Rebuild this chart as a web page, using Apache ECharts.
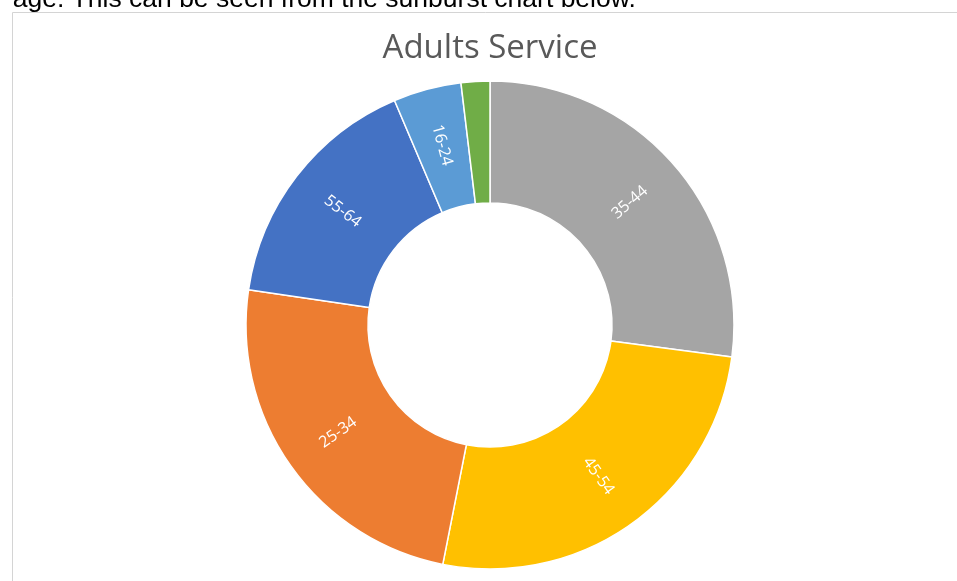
<!DOCTYPE html>
<html>
<head>
<meta charset="utf-8">
<script src="https://cdn.jsdelivr.net/npm/echarts@6/dist/echarts.min.js"></script>
<style>
html, body { margin: 0; padding: 0; background: #fff; }
#main { width: 957px; height: 581px; }
</style>
</head>
<body>
<div id="main"></div>
<script>
// age bands, clockwise from 12 o'clock
var ageBands = ['35-44', '45-54', '25-34', '55-64', '16-24', '65+'];
var shares = [27.1, 26.0, 24.2, 16.3, 4.5, 1.9];
var sliceColors = ['#A5A5A5', '#FFC000', '#ED7D31', '#4472C4', '#5B9BD5', '#70AD47'];

var chart = echarts.init(document.getElementById('main'));

var pieData = ageBands.map(function (name, i) {
    var item = { name: name, value: shares[i], itemStyle: { color: sliceColors[i] } };
    // the thin green wedge carries no label in the original
    if (shares[i] < 3) {
        item.label = { show: false };
    }
    return item;
});

var option = {
    animation: false,
    backgroundColor: '#fff',
    title: {
        text: 'Adults Service',
        left: 485,
        top: 27,
        textAlign: 'center',
        textStyle: {
            fontFamily: 'Open Sans',
            fontSize: 33,
            fontWeight: 'normal',
            color: '#595959'
        }
    },
    graphic: [
        {
            type: 'text',
            left: -5,
            top: -14,
            style: {
                text: 'Page. This can be seen from the sunburst chart below.',
                font: '26.5px "Liberation Sans", Arial, sans-serif',
                fill: '#000'
            }
        },
        {
            type: 'rect',
            shape: { x: 12.5, y: 12.5, width: 1000, height: 1000 },
            style: { fill: 'none', stroke: '#d4d4d4', lineWidth: 1 },
            silent: true
        }
    ],
    series: [{
        type: 'pie',
        center: [490, 325],
        radius: [122, 244],
        startAngle: 90,
        clockwise: true,
        avoidLabelOverlap: false,
        itemStyle: {
            borderColor: '#fff',
            borderWidth: 1.5
        },
        label: {
            show: true,
            position: 'inside',
            rotate: 'radial',
            color: '#fff',
            fontFamily: 'Open Sans',
            fontSize: 16,
            formatter: '{b}'
        },
        labelLine: { show: false },
        emphasis: { disabled: true },
        data: pieData
    }]
};

chart.setOption(option);
</script>
</body>
</html>
